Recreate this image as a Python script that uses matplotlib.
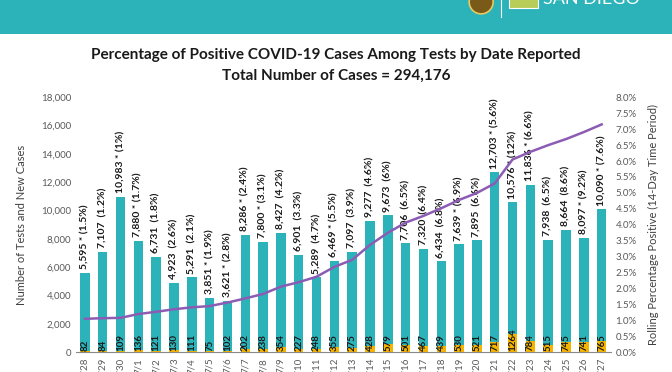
import numpy as np
import matplotlib.pyplot as plt
from matplotlib.patches import Rectangle, Ellipse
from matplotlib.lines import Line2D
from matplotlib.ticker import FuncFormatter

plt.rcParams['font.family'] = ['Lato', 'DejaVu Sans']

# Data
dates = ['6/28', '6/29', '6/30', '7/1', '7/2', '7/3', '7/4', '7/5', '7/6', '7/7',
         '7/8', '7/9', '7/10', '7/11', '7/12', '7/13', '7/14', '7/15', '7/16', '7/17',
         '7/18', '7/19', '7/20', '7/21', '7/22', '7/23', '7/24', '7/25', '7/26', '7/27']
tests = [5595, 7107, 10983, 7880, 6731, 4923, 5291, 3851, 3621, 8286,
         7800, 8427, 6901, 5289, 6469, 7097, 9277, 9673, 7706, 7320,
         6434, 7639, 7895, 12703, 10576, 11836, 7938, 8664, 8097, 10090]
day_pct = ['1.5%', '1.2%', '1%', '1.7%', '1.8%', '2.6%', '2.1%', '1.9%', '2.8%', '2.4%',
           '3.1%', '4.2%', '3.3%', '4.7%', '5.5%', '3.9%', '4.6%', '6%', '6.5%', '6.4%',
           '6.8%', '6.9%', '6.6%', '5.6%', '12%', '6.6%', '6.5%', '8.6%', '9.2%', '7.6%']
starred = [1, 0, 1, 1, 0, 0, 0, 1, 1, 1,
           1, 0, 0, 0, 1, 0, 0, 0, 0, 0,
           0, 1, 0, 1, 1, 1, 0, 0, 1, 1]
cases = [82, 84, 109, 136, 121, 130, 111, 75, 102, 202,
         238, 354, 227, 248, 355, 275, 428, 579, 501, 467,
         439, 530, 521, 717, 1264, 784, 515, 745, 741, 765]
rolling = [1.05, 1.07, 1.08, 1.2, 1.27, 1.35, 1.41, 1.45, 1.56, 1.69,
           1.83, 2.06, 2.2, 2.37, 2.68, 2.9, 3.37, 3.75, 4.07, 4.28,
           4.52, 4.78, 5.0, 5.3, 6.05, 6.29, 6.5, 6.69, 6.91, 7.15]

teal = '#2CB3B9'
gold = '#F5B400'
purple = '#8C5CB4'
grey = '#404040'

fig = plt.figure(figsize=(6.72, 3.72), dpi=100)

# header band with a rough county logo
fig.patches.append(Rectangle((0, 0.908), 1, 0.092, transform=fig.transFigure,
                             facecolor=teal, edgecolor='none', zorder=0))
fig.patches.append(Ellipse((0.716, 0.995), 24 / 672, 24 / 372, transform=fig.transFigure,
                           facecolor='#7a5a18', edgecolor='#e8c860', lw=1.2, zorder=1))
fig.lines.append(Line2D([0.746, 0.746], [0.955, 1.0], transform=fig.transFigure,
                        color='white', lw=0.8))
fig.patches.append(Rectangle((0.757, 0.978), 0.044, 0.03, transform=fig.transFigure,
                             facecolor='#b8cc58', edgecolor='white', lw=0.8, zorder=1))
fig.text(0.808, 0.982, 'SAN DIEGO', color='white', fontsize=13, ha='left', va='bottom')

fig.text(0.5, 0.852, 'Percentage of Positive COVID-19 Cases Among Tests by Date Reported',
         ha='center', va='center', fontsize=11, fontweight='bold', color='#1a1a1a')
fig.text(0.5, 0.797, 'Total Number of Cases = 294,176',
         ha='center', va='center', fontsize=11, fontweight='bold', color='#1a1a1a')

ax = fig.add_axes([0.1131, 0.053, 0.7955, 0.6854])
x = np.arange(len(dates))
ax.bar(x, tests, width=0.53, color=teal, zorder=1)
ax.bar(x, cases, width=0.53, color=gold, zorder=2)

for i in range(len(x)):
    sep = ' * ' if starred[i] else '  '
    ax.text(x[i], tests[i] + 250, f'{tests[i]:,}{sep}({day_pct[i]})', rotation=90,
            ha='center', va='bottom', fontsize=7.5, fontweight='bold', color='#1a1a1a', zorder=4)
    ax.text(x[i], 60, str(cases[i]), rotation=90, ha='center', va='bottom',
            fontsize=7, fontweight='bold', color='#1a1a1a', zorder=4)

ax.set_xlim(-0.5, len(x) - 0.5)
ax.set_ylim(0, 18000)
ax.set_yticks(np.arange(0, 18001, 2000))
ax.yaxis.set_major_formatter(FuncFormatter(lambda v, p: f'{int(v):,}'))
ax.set_xticks(x)
ax.set_xticklabels(dates, rotation=90, fontsize=7, color='#595959')
ax.tick_params(axis='both', length=0, labelsize=7, colors='#595959')
ax.tick_params(axis='x', pad=4)
for s in ['top', 'left', 'right']:
    ax.spines[s].set_visible(False)
ax.spines['bottom'].set_color('#888888')
ax.set_ylabel('Number of Tests and New Cases', fontsize=8, color=grey, labelpad=10)

ax2 = ax.twinx()
ax2.plot(x, rolling, color=purple, lw=1.8, zorder=5)
ax2.set_ylim(0, 8)
ax2.set_yticks(np.arange(0, 8.01, 0.5))
ax2.yaxis.set_major_formatter(FuncFormatter(lambda v, p: f'{v:.1f}%'))
ax2.tick_params(axis='y', length=0, labelsize=7, colors='#595959')
for s in ['top', 'left', 'right', 'bottom']:
    ax2.spines[s].set_visible(False)
ax2.set_ylabel('Rolling Percentage Positive (14-Day Time Period)', fontsize=8, color=grey, labelpad=8)

fig.savefig('out.png', dpi=100)
